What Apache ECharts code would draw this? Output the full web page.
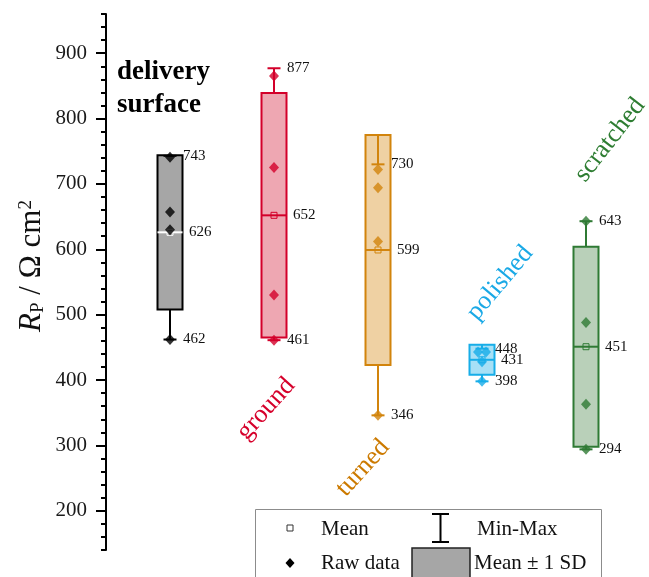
<!DOCTYPE html>
<html>
<head>
<meta charset="utf-8">
<script src="https://cdn.jsdelivr.net/npm/echarts@6/dist/echarts.min.js"></script>
<style>
  html, body { margin: 0; padding: 0; background: #fff; }
  #chart { width: 649px; height: 577px; }
</style>
</head>
<body>
<div id="chart"></div>
<script>
// Polarisation resistance per surface finish
const categories = ['delivery surface', 'ground', 'turned', 'polished', 'scratched'];
const means = [626, 652, 599, 431, 451];
const sds   = [118, 187, 176, 23, 153];
const mins  = [462, 461, 346, 398, 294];
const maxs  = [743, 877, 730, 448, 643];

// individual measurements
const rawDelivery  = [741, 657, 630, 462];
const rawGround    = [865, 725, 530, 461];
const rawTurned    = [722, 694, 612, 346];
const rawPolished  = [443, 443, 428, 398];
const rawScratched = [643, 488, 363, 294];
const rawAll = [rawDelivery, rawGround, rawTurned, rawPolished, rawScratched];

const yTickLabels = [200, 300, 400, 500, 600, 700, 800, 900];

// colours per surface
const lineColors = ['#000000', '#d3002a', '#d2840c', '#17ade8', '#2f7a34'];
const fillColors = ['#a6a6a6', '#eea7b2', '#efd1a3', '#a7e0f6', '#b9d0b9'];
const meanColors = ['#ffffff', '#d3002a', '#d2840c', '#17ade8', '#2f7a34'];
const nameColors = ['#000000', '#d6002b', '#cc7a00', '#1aa9e6', '#2e7d32'];

const serif = '"Liberation Serif", "Times New Roman", serif';

const boxData = categories.map((c, i) => [i, means[i], sds[i], mins[i], maxs[i]]);

// spread coincident points sideways so both stay visible
const rawPoints = [];
rawAll.forEach((vals, i) => {
  vals.forEach((v, k) => {
    const dup = vals.indexOf(v) !== k || vals.lastIndexOf(v) !== k;
    let off = 0;
    if (dup) off = vals.indexOf(v) === k ? -4 : 4;
    rawPoints.push({
      value: [i, v],
      symbolOffset: [off, 0],
      itemStyle: { color: lineColors[i] }
    });
  });
});

function renderBox(params, api) {
  const i = api.value(0);
  const mean = api.value(1), sd = api.value(2), mn = api.value(3), mx = api.value(4);
  const cx = api.coord([i, mean])[0];
  const y = v => api.coord([i, v])[1];
  const halfBox = 12.5, halfCap = 6.5;
  const stroke = lineColors[i];
  const yTop = y(mean + sd), yBot = y(mean - sd);
  const lw = 2;
  const children = [
    { type: 'rect', shape: { x: cx - halfBox, y: yTop, width: 2 * halfBox, height: yBot - yTop },
      style: { fill: fillColors[i], stroke: stroke, lineWidth: lw } },
    { type: 'line', shape: { x1: cx, y1: yTop, x2: cx, y2: y(mx) }, style: { stroke: stroke, lineWidth: lw } },
    { type: 'line', shape: { x1: cx, y1: yBot, x2: cx, y2: y(mn) }, style: { stroke: stroke, lineWidth: lw } },
    { type: 'line', shape: { x1: cx - halfCap, y1: y(mx), x2: cx + halfCap, y2: y(mx) }, style: { stroke: stroke, lineWidth: lw } },
    { type: 'line', shape: { x1: cx - halfCap, y1: y(mn), x2: cx + halfCap, y2: y(mn) }, style: { stroke: stroke, lineWidth: lw } },
    { type: 'line', shape: { x1: cx - halfBox, y1: y(mean), x2: cx + halfBox, y2: y(mean) }, style: { stroke: meanColors[i], lineWidth: lw } },
    { type: 'rect', shape: { x: cx - 3, y: y(mean) - 3, width: 6, height: 6 }, style: { fill: 'none', stroke: meanColors[i], lineWidth: 1 } },
    { type: 'text', style: { text: String(mx), x: cx + 13, y: y(mx), verticalAlign: 'middle', fill: '#111', font: '15px ' + serif } },
    { type: 'text', style: { text: String(mean), x: cx + 19, y: y(mean), verticalAlign: 'middle', fill: '#111', font: '15px ' + serif } },
    { type: 'text', style: { text: String(mn), x: cx + 13, y: y(mn), verticalAlign: 'middle', fill: '#111', font: '15px ' + serif } }
  ];
  return { type: 'group', children: children };
}

const chart = echarts.init(document.getElementById('chart'), null, { renderer: 'canvas' });

const deg = Math.PI / 180;
const gridRect = { left: 118, right: 11, top: 14, bottom: 27 };

chart.setOption({
  animation: false,
  backgroundColor: '#ffffff',
  grid: [Object.assign({}, gridRect), Object.assign({}, gridRect)],
  xAxis: [
    { type: 'category', data: categories, gridIndex: 0, show: false },
    { type: 'category', data: categories, gridIndex: 1, show: false }
  ],
  yAxis: [
    {
      type: 'value', gridIndex: 0, min: 140, max: 960, interval: 20, offset: 12,
      axisLine: { show: true, lineStyle: { color: '#000', width: 2 } },
      axisTick: { show: true, length: 5, lineStyle: { color: '#000', width: 2 } },
      axisLabel: { show: false },
      splitLine: { show: false }
    },
    {
      type: 'value', gridIndex: 1, min: 140, max: 960, interval: 20, offset: 12,
      axisLine: { show: false },
      axisTick: { show: true, length: 10, customValues: yTickLabels, lineStyle: { color: '#000', width: 2 } },
      axisLabel: { show: true, customValues: yTickLabels, margin: 19, fontSize: 21, fontFamily: serif, color: '#1a1a1a' },
      splitLine: { show: false }
    }
  ],
  series: [
    {
      type: 'custom', xAxisIndex: 0, yAxisIndex: 0,
      renderItem: renderBox,
      data: boxData,
      encode: { x: 0, y: [1, 3, 4] },
      z: 2
    },
    {
      type: 'scatter', xAxisIndex: 0, yAxisIndex: 0,
      symbol: 'diamond', symbolSize: [10, 11],
      data: rawPoints,
      z: 5
    }
  ],
  graphic: [
    // y-axis title
    {
      type: 'text', x: 32, y: 266, rotation: 90 * deg,
      style: {
        text: '{i|R}{sub|P}{n| / Ω cm}{sup|2}',
        align: 'center', verticalAlign: 'middle', fill: '#111',
        rich: {
          i: { fontSize: 31, fontStyle: 'italic', fontFamily: serif, fill: '#111' },
          sub: { fontSize: 19, fontFamily: serif, verticalAlign: 'bottom', fill: '#111' },
          n: { fontSize: 31, fontFamily: serif, fill: '#111' },
          sup: { fontSize: 19, fontFamily: serif, verticalAlign: 'top', fill: '#111' }
        }
      }
    },
    // surface names
    { type: 'text', x: 117, y: 72, style: { text: 'delivery', verticalAlign: 'middle', fill: nameColors[0], font: 'bold 27px ' + serif } },
    { type: 'text', x: 117, y: 105, style: { text: 'surface', verticalAlign: 'middle', fill: nameColors[0], font: 'bold 27px ' + serif } },
    { type: 'text', x: 266, y: 409, rotation: 48 * deg, style: { text: 'ground', align: 'center', verticalAlign: 'middle', fill: nameColors[1], font: '26px ' + serif } },
    { type: 'text', x: 363, y: 468, rotation: 48 * deg, style: { text: 'turned', align: 'center', verticalAlign: 'middle', fill: nameColors[2], font: '26px ' + serif } },
    { type: 'text', x: 500, y: 283, rotation: 50 * deg, style: { text: 'polished', align: 'center', verticalAlign: 'middle', fill: nameColors[3], font: '26px ' + serif } },
    { type: 'text', x: 610, y: 140, rotation: 52 * deg, style: { text: 'scratched', align: 'center', verticalAlign: 'middle', fill: nameColors[4], font: '26px ' + serif } },
    // legend
    { type: 'rect', shape: { x: 255.5, y: 509.5, width: 346, height: 90 }, style: { fill: '#fff', stroke: '#8c8c8c', lineWidth: 1 }, z: 10 },
    { type: 'rect', shape: { x: 287, y: 525, width: 6, height: 6 }, style: { fill: 'none', stroke: '#333', lineWidth: 1 }, z: 11 },
    { type: 'text', x: 321, y: 529, style: { text: 'Mean', verticalAlign: 'middle', fill: '#111', font: '21px ' + serif }, z: 11 },
    { type: 'polygon', shape: { points: [[290, 558], [294.5, 563], [290, 568], [285.5, 563]] }, style: { fill: '#000' }, z: 11 },
    { type: 'text', x: 321, y: 563, style: { text: 'Raw data', verticalAlign: 'middle', fill: '#111', font: '21px ' + serif }, z: 11 },
    { type: 'line', shape: { x1: 440.5, y1: 514, x2: 440.5, y2: 542 }, style: { stroke: '#000', lineWidth: 2 }, z: 11 },
    { type: 'line', shape: { x1: 432, y1: 514, x2: 449, y2: 514 }, style: { stroke: '#000', lineWidth: 2 }, z: 11 },
    { type: 'line', shape: { x1: 432, y1: 542, x2: 449, y2: 542 }, style: { stroke: '#000', lineWidth: 2 }, z: 11 },
    { type: 'text', x: 477, y: 529, style: { text: 'Min-Max', verticalAlign: 'middle', fill: '#111', font: '21px ' + serif }, z: 11 },
    { type: 'rect', shape: { x: 412, y: 548, width: 58, height: 40 }, style: { fill: '#a6a6a6', stroke: '#222', lineWidth: 1.5 }, z: 11 },
    { type: 'text', x: 474, y: 563, style: { text: 'Mean ± 1 SD', verticalAlign: 'middle', fill: '#111', font: '21px ' + serif }, z: 11 }
  ]
});
</script>
</body>
</html>
